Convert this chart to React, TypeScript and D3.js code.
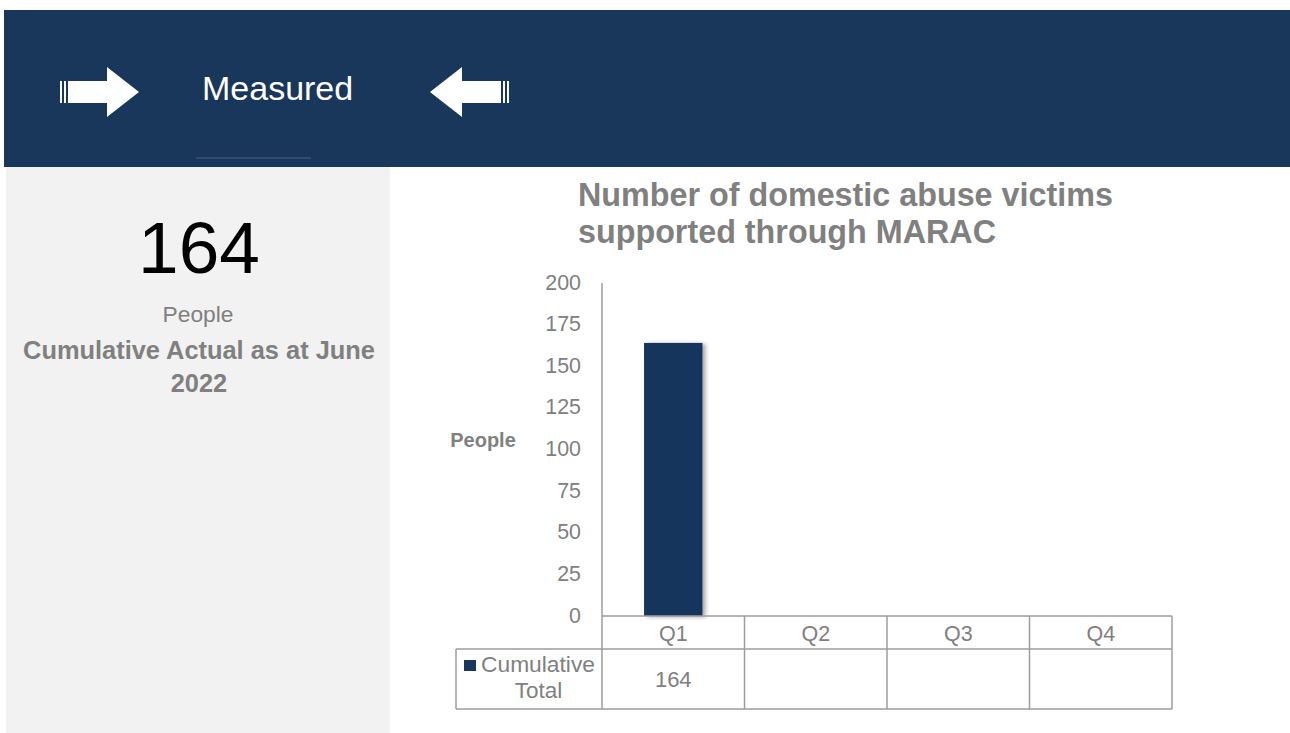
import React from "react";
import * as d3 from "d3";

const categories = ["Q1", "Q2", "Q3", "Q4"];
const values: (number | null)[] = [164, null, null, null];
const yTicks = [0, 25, 50, 75, 100, 125, 150, 175, 200];
const seriesName = ["Cumulative", "Total"];
const headline = "164";

const NAVY = "#19365b";
const GRAY = "#808080";
const LINE = "#9c9c9c";
const FONT = '"Liberation Sans", sans-serif';

export default function App() {
  const x0 = 602, x1 = 1172, yTop = 283, yBot = 616;
  const x = d3.scaleBand<string>().domain(categories).range([x0, x1]).paddingInner(0).paddingOuter(0);
  const y = d3.scaleLinear().domain([0, 200]).range([yBot, yTop]);
  const bw = x.bandwidth() * 0.41;
  const row1 = 649, row2 = 709, tableLeft = 456;

  return (
    <svg width={1290} height={733} style={{ position: "absolute", left: 0, top: 0, fontFamily: FONT }}>
      <defs>
        <filter id="sh" x="-20%" y="-10%" width="150%" height="130%">
          <feDropShadow dx="3" dy="1" stdDeviation="2" floodColor="#000" floodOpacity="0.35" />
        </filter>
      </defs>
      <rect x={0} y={0} width={1290} height={733} fill="#fff" />
      {/* header */}
      <rect x={4} y={10} width={1286} height={157} fill={NAVY} />
      <line x1={196} x2={311} y1={158} y2={158} stroke="#4a6383" strokeWidth={1} />
      {/* right arrow */}
      <g fill="#fff">
        <rect x={60} y={81} width={2} height={22} />
        <rect x={64} y={81} width={2} height={22} />
        <rect x={68} y={81} width={40} height={22} />
        <polygon points="107,67 139,92 107,117" />
      </g>
      <text x={202} y={100} fill="#fff" fontSize={34}>Measured</text>
      {/* left arrow */}
      <g fill="#fff">
        <polygon points="462,67 430,92 462,117" />
        <rect x={461} y={81} width={40} height={22} />
        <rect x={503} y={81} width={2} height={22} />
        <rect x={507} y={81} width={2} height={22} />
      </g>
      {/* left panel */}
      <rect x={6} y={167} width={384} height={566} fill="#f2f2f2" />
      <text x={199} y={273} textAnchor="middle" fontSize={73} fill="#000">{headline}</text>
      <text x={198} y={322} textAnchor="middle" fontSize={22.8} fill={GRAY}>People</text>
      <text x={199} y={359} textAnchor="middle" fontSize={25.4} fontWeight="bold" fill={GRAY}>Cumulative Actual as at June</text>
      <text x={199} y={392} textAnchor="middle" fontSize={25.4} fontWeight="bold" fill={GRAY}>2022</text>
      {/* title */}
      <text x={578} y={206} fontSize={32.3} fontWeight="bold" fill={GRAY}>Number of domestic abuse victims</text>
      <text x={578} y={243} fontSize={32.3} fontWeight="bold" fill={GRAY}>supported through MARAC</text>
      {/* y axis */}
      <line x1={x0} x2={x0} y1={yTop} y2={yBot} stroke={LINE} strokeWidth={1.5} />
      {yTicks.map((t) => (
        <text key={t} x={581} y={y(t) + 6.5} textAnchor="end" fontSize={21.4} fill={GRAY}>{t}</text>
      ))}
      <text x={483} y={447} textAnchor="middle" fontSize={20} fontWeight="bold" fill={GRAY}>People</text>
      {/* bars */}
      {categories.map((c, i) =>
        values[i] != null ? (
          <rect key={c} x={(x(c) as number) + (x.bandwidth() - bw) / 2} y={y(values[i] as number)} width={bw}
            height={yBot - y(values[i] as number)} fill={NAVY} filter="url(#sh)" />
        ) : null
      )}
      {/* data table */}
      <g stroke={LINE} strokeWidth={1.5} fill="none">
        <line x1={x0} x2={x1} y1={yBot} y2={yBot} />
        <line x1={tableLeft} x2={x1} y1={row1} y2={row1} />
        <line x1={tableLeft} x2={x1} y1={row2} y2={row2} />
        <line x1={tableLeft} x2={tableLeft} y1={row1} y2={row2} />
        {categories.map((c) => (
          <line key={c} x1={x(c) as number} x2={x(c) as number} y1={yBot} y2={row2} />
        ))}
        <line x1={x1} x2={x1} y1={yBot} y2={row2} />
      </g>
      {categories.map((c) => (
        <text key={c} x={(x(c) as number) + x.bandwidth() / 2} y={641} textAnchor="middle" fontSize={21.5} fill={GRAY}>{c}</text>
      ))}
      {categories.map((c, i) =>
        values[i] != null ? (
          <text key={c} x={(x(c) as number) + x.bandwidth() / 2} y={687} textAnchor="middle" fontSize={22} fill={GRAY}>{values[i]}</text>
        ) : null
      )}
      <rect x={464} y={660} width={12} height={11} fill={NAVY} />
      <text x={481} y={672} fontSize={22.5} fill={GRAY} textLength={114} lengthAdjust="spacingAndGlyphs">{seriesName[0]}</text>
      <text x={538.5} y={698} textAnchor="middle" fontSize={22.5} fill={GRAY}>{seriesName[1]}</text>
    </svg>
  );
}
